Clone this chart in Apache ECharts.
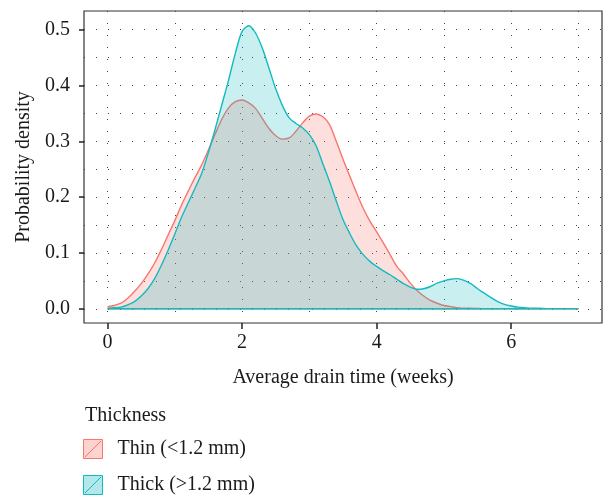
<!DOCTYPE html>
<html><head><meta charset="utf-8">
<script src="https://cdn.jsdelivr.net/npm/echarts@6/dist/echarts.min.js"></script>
<style>html,body{margin:0;padding:0;background:#fff}#c{width:611px;height:497px}</style>
</head><body><div id="c"></div>
<script>
const xValues = [0,0.1,0.2,0.3,0.4,0.5,0.6,0.7,0.8,0.9,
  1,1.1,1.2,1.3,1.4,1.5,1.6,1.7,1.8,1.9,
  2,2.1,2.2,2.3,2.4,2.5,2.6,2.7,2.8,2.9,
  3,3.1,3.2,3.3,3.4,3.5,3.6,3.7,3.8,3.9,
  4,4.1,4.2,4.3,4.4,4.5,4.6,4.7,4.8,4.9,
  5,5.1,5.2,5.3,5.4,5.5,5.6,5.7,5.8,5.9,
  6,6.1,6.2,6.3,6.4,6.5,6.6,6.7,6.8,6.9,7];
const thinDensity = [0.004,0.006,0.010,0.019,0.031,0.045,0.062,0.082,0.106,0.132,
  0.158,0.186,0.211,0.235,0.258,0.285,0.313,0.340,0.360,0.371,
  0.374,0.369,0.359,0.341,0.323,0.310,0.304,0.306,0.318,0.333,
  0.345,0.349,0.344,0.330,0.300,0.268,0.238,0.208,0.180,0.157,
  0.138,0.118,0.097,0.076,0.062,0.046,0.033,0.023,0.015,0.010,
  0.006,0.004,0.002,0.001,0.001,0.0005,0.0003,0.0002,0.0001,0.0001,
  0,0,0,0,0,0,0,0,0,0,0];
const thickDensity = [0.001,0.002,0.003,0.007,0.013,0.023,0.036,0.054,0.078,0.105,
  0.134,0.164,0.190,0.216,0.243,0.280,0.322,0.366,0.410,0.458,
  0.497,0.507,0.494,0.467,0.431,0.394,0.364,0.342,0.332,0.324,
  0.312,0.292,0.260,0.228,0.193,0.160,0.135,0.113,0.097,0.085,
  0.076,0.068,0.061,0.053,0.045,0.039,0.035,0.036,0.040,0.046,
  0.050,0.053,0.054,0.051,0.045,0.036,0.028,0.020,0.013,0.008,
  0.005,0.003,0.002,0.001,0.001,0.0005,0.0002,0.0001,0,0,0];
const seriesNames = ['Thin (<1.2 mm)', 'Thick (>1.2 mm)'];
const xTickLabels = [0,2,4,6];
const xGridValues = [0,1,2,3,4,5,6,7];
const yTickLabels = [0,0.1,0.2,0.3,0.4,0.5];
const yGridValues = [0,0.05,0.1,0.15,0.2,0.25,0.3,0.35,0.4,0.45,0.5];

const FONT = 'Liberation Serif';
const FS = 20;
const TXT = '#1a1a1a';
const lineColors = ['#F8766D', '#12BBBF'];
const fillColors = ['rgba(248,118,109,0.32)', 'rgba(8,180,186,0.31)'];

function closedPolygon(ys) {
  const pts = xValues.map((x, i) => [x, ys[i]]);
  pts.push([xValues[xValues.length - 1], 0]);
  pts.push([xValues[0], 0]);
  return pts;
}

const gridDots = {show: true, lineStyle: {color: '#444', width: 1, type: [1, 11]}};
const keyIcon = 'path://M0,0 L20,0 L20,20 L0,20 Z M1.5,18.5 L18.5,1.5 Z';

const chart = echarts.init(document.getElementById('c'), null, {renderer: 'canvas'});
chart.setOption({
  animation: false,
  backgroundColor: '#fff',
  textStyle: {fontFamily: FONT},
  title: [{
    text: 'Thickness', left: 80, top: 401,
    textStyle: {fontFamily: FONT, fontSize: FS, fontWeight: 'normal', color: TXT}
  }],
  legend: {
    orient: 'vertical', left: 83, top: 439, padding: 0,
    itemWidth: 19, itemHeight: 19, itemGap: 16, selectedMode: false,
    textStyle: {fontFamily: FONT, fontSize: FS, color: TXT, padding: [0, 0, 0, 10]},
    data: seriesNames.map((n, i) => ({
      name: n, icon: keyIcon,
      itemStyle: {color: fillColors[i], borderColor: lineColors[i], borderWidth: 1}
    }))
  },
  grid: {left: 84, right: 9, top: 11, bottom: 174, show: true, borderColor: '#333', borderWidth: 1.2, backgroundColor: 'transparent'},
  xAxis: [{
    type: 'value', min: -0.35, max: 7.35, position: 'bottom',
    name: 'Average drain time (weeks)', nameLocation: 'middle', nameGap: 45,
    nameTextStyle: {fontFamily: FONT, fontSize: FS, color: TXT},
    axisLine: {show: false, onZero: false},
    axisTick: {show: true, length: 6, customValues: xTickLabels, lineStyle: {color: '#222', width: 1.5}},
    axisLabel: {customValues: xTickLabels, margin: 10, fontFamily: FONT, fontSize: FS, color: TXT},
    splitLine: {show: false}
  }, {
    type: 'value', min: -0.35, max: 7.35, position: 'bottom',
    axisLine: {show: false, onZero: false}, axisLabel: {show: false},
    axisTick: {show: false, customValues: xGridValues},
    splitLine: gridDots
  }],
  yAxis: [{
    type: 'value', min: -0.0254, max: 0.5334, position: 'left',
    name: 'Probability density', nameLocation: 'middle', nameGap: 48,
    nameTextStyle: {fontFamily: FONT, fontSize: FS, color: TXT},
    axisLine: {show: false, onZero: false},
    axisTick: {show: true, length: 5, customValues: yTickLabels, lineStyle: {color: '#222', width: 1.5}},
    axisLabel: {customValues: yTickLabels, margin: 14, fontFamily: FONT, fontSize: FS, color: TXT,
      formatter: v => v.toFixed(1)},
    splitLine: {show: false}
  }, {
    type: 'value', min: -0.0254, max: 0.5334, position: 'left',
    axisLine: {show: false, onZero: false}, axisLabel: {show: false},
    axisTick: {show: false, customValues: yGridValues},
    splitLine: gridDots
  }],
  series: [thinDensity, thickDensity].map((ys, i) => ({
    name: seriesNames[i], type: 'line', xAxisIndex: 0, yAxisIndex: 0,
    data: closedPolygon(ys), smooth: 0.3, showSymbol: false, symbol: 'none',
    lineStyle: {color: lineColors[i], width: 1.4},
    itemStyle: {color: fillColors[i], borderColor: lineColors[i]},
    areaStyle: {color: fillColors[i], origin: 0},
    z: 3 + i
  }))
});
</script></body></html>
